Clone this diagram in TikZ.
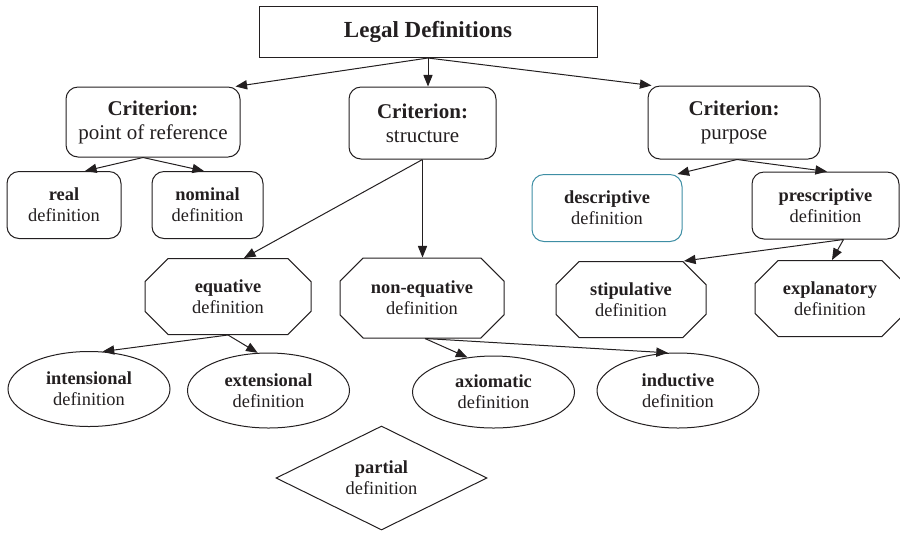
\documentclass[tikz,border=0pt]{standalone}
\usepackage{fontspec}
\setmainfont{Liberation Serif}
\usepackage{xcolor}
\usetikzlibrary{arrows.meta,shapes.geometric,shapes.misc,calc}
\definecolor{colorLine}{RGB}{35,31,32}
\definecolor{colorDesc}{RGB}{62,142,164}
\newcommand{\crit}[1]{\textbf{Criterion:}\\#1}
\newcommand{\defn}[1]{\textbf{#1}\\definition}
\tikzset{
   every path/.style={>={Triangle[length=5.8pt,width=4.6pt]}},
   arr/.style={->,draw=colorLine,line width=0.5pt},
   titlebox/.style={rectangle,draw=colorLine,line width=0.5pt,inner sep=0pt,
      minimum width=169pt,minimum height=25.5pt,font=\fontsize{11.5}{13}\selectfont\bfseries},
   critbox/.style={rectangle,rounded corners=6pt,draw=colorLine,line width=0.5pt,inner sep=0pt,
      align=center,font=\fontsize{10.5}{12}\selectfont},
   defbox/.style={rectangle,rounded corners=6pt,draw=colorLine,line width=0.5pt,inner sep=0pt,
      align=center,minimum height=33.5pt,font=\fontsize{9.2}{10.5}\selectfont},
   octa/.style={chamfered rectangle,chamfered rectangle xsep=11pt,draw=colorLine,line width=0.5pt,
      inner sep=0pt,align=center,minimum height=38pt,font=\fontsize{9.2}{10.5}\selectfont},
   oval/.style={ellipse,draw=colorLine,line width=0.5pt,inner sep=0pt,align=center,
      minimum width=81pt,minimum height=37.5pt,font=\fontsize{9.2}{10.5}\selectfont},
   dia/.style={diamond,aspect=2,draw=colorLine,line width=0.5pt,inner sep=0pt,align=center,
      minimum width=105.5pt,minimum height=52pt,font=\fontsize{9.2}{10.5}\selectfont},
}

\begin{document}
\begin{tikzpicture}[x=0.5pt,y=-0.5pt,text=colorLine]
\useasboundingbox (0,0) rectangle (900,532);

\node[titlebox] (legal) at (428,32) {Legal Definitions};

% criteria
\begin{scope}[every node/.style={critbox}]
  \node[minimum width=87pt,minimum height=35pt] (ref) at (153,122) {\crit{point of reference}};
  \node[minimum width=73.5pt,minimum height=36pt] (struct) at (422.5,123) {\crit{structure}};
  \node[minimum width=86pt,minimum height=36.5pt] (purp) at (734,122.5) {\crit{purpose}};
\end{scope}

% second level
\node[defbox,minimum width=57pt] (real) at (64,205) {\defn{real}};
\node[defbox,minimum width=55.5pt] (nominal) at (207.5,205) {\defn{nominal}};
\node[defbox,minimum width=75pt,draw=colorDesc] (descr) at (607,208) {\defn{descriptive}};
\node[defbox,minimum width=73.5pt] (prescr) at (825.5,205.5) {\defn{prescriptive}};

\node[octa,minimum width=83pt] (equat) at (228,296.5) {\defn{equative}};
\node[octa,minimum width=82pt,minimum height=40pt] (nonequat) at (422,298) {\defn{non-equative}};
\node[octa,minimum width=75pt] (stipul) at (631,299.5) {\defn{stipulative}};
\node[octa,minimum width=75pt] (explan) at (830,298.5) {\defn{explanatory}};

\node[oval] (intens) at (89,389) {\defn{intensional}};
\node[oval] (extens) at (268.5,390.5) {\defn{extensional}};
\node[oval,minimum height=36pt] (axiom) at (493.5,392) {\defn{axiomatic}};
\node[oval] (induct) at (678,390.5) {\defn{inductive}};

\node[dia] (partial) at (381.5,478) {\defn{partial}};

% connectors
\draw[arr] (legal.south) -- ([xshift=-2.5pt]ref.north east);
\draw[arr] (legal.south) -- (legal.south |- struct.north);
\draw[arr] (legal.south) -- ([xshift=2pt]purp.north west);

\draw[arr] ([xshift=-5pt]ref.south) -- ([xshift=10.5pt]real.north);
\draw[arr] ([xshift=-5pt]ref.south) -- ([xshift=-1.75pt]nominal.north);

\draw[arr] (struct.south) -- ([xshift=8pt]equat.north);
\draw[arr] (struct.south) -- (struct.south |- nonequat.north);

\draw[arr] ([xshift=1.5pt]purp.south) -- ([xshift=-2.5pt]descr.north east);
\draw[arr] ([xshift=1.5pt]purp.south) -- ([xshift=0.75pt]prescr.north);

\draw[arr] ([xshift=9pt]prescr.south) -- ([xshift=26.5pt]stipul.north);
\draw[arr] ([xshift=9pt]prescr.south) -- ([xshift=1pt]explan.north);

\draw[arr] (equat.south) -- (intens.70);
\draw[arr] (equat.south) -- (extens.106);

\draw[arr] ([xshift=1.5pt]nonequat.south) -- (axiom.127);
\draw[arr] ([xshift=1.5pt]nonequat.south) -- (induct.105);
\end{tikzpicture}
\end{document}
